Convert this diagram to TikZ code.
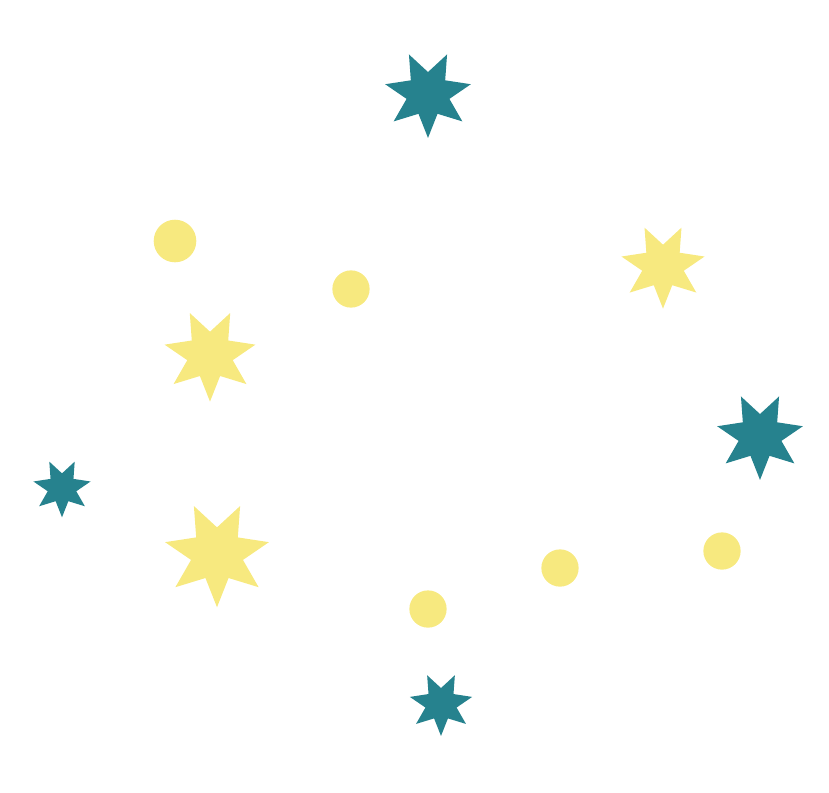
\documentclass[tikz,border=0pt]{standalone}
\usetikzlibrary{shapes.geometric}
\definecolor{teal7}{HTML}{26828E}
\definecolor{sun7}{HTML}{F7E97F}
\tikzset{
  spark/.style={star,star points=7,star point ratio=2,shape border rotate=180,
    inner sep=0pt,minimum size=#1,draw=none},
  dot/.style={circle,inner sep=0pt,minimum size=#1,draw=none}
}
\begin{document}
\begin{tikzpicture}[x=0.0264cm,y=-0.0264cm]
  \useasboundingbox (0,0) rectangle (829,792);

  % stars
  \node[spark=66,fill=teal7] (s1) at (428,94) {};
  \node[spark=64,fill=sun7] (s2) at (663,266) {};
  \node[spark=70,fill=sun7] (s3) at (210,355) {};
  \node[spark=66,fill=teal7] (s4) at (760,436) {};
  \node[spark=44,fill=teal7] (s5) at (62,488) {};
  \node[spark=80,fill=sun7] (s6) at (217,554) {};
  \node[spark=48,fill=teal7] (s7) at (441,704) {};

  % dots
  \node[dot=32,fill=sun7] (d1) at (175,241) {};
  \node[dot=28,fill=sun7] (d2) at (351,289) {};
  \node[dot=28,fill=sun7] (d3) at (722,551) {};
  \node[dot=28,fill=sun7] (d4) at (560,568) {};
  \node[dot=28,fill=sun7] (d5) at (428,609) {};
\end{tikzpicture}
\end{document}
